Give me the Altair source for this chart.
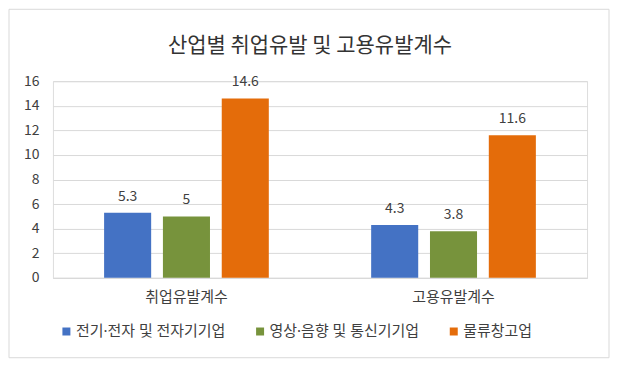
import altair as alt
import pandas as pd

groups = ["취업유발계수", "고용유발계수"]
series = ["전기·전자 및 전자기기업", "영상·음향 및 통신기기업", "물류창고업"]
values_by_group = {
    "취업유발계수": [5.3, 5, 14.6],
    "고용유발계수": [4.3, 3.8, 11.6],
}
colors = ["#4472C4", "#77933C", "#E46C0A"]
y_ticks = [0, 2, 4, 6, 8, 10, 12, 14, 16]

rows = []
for g in groups:
    for s, v in zip(series, values_by_group[g]):
        rows.append({"group": g, "series": s, "value": v, "label": f"{v:g}"})
df = pd.DataFrame(rows)

FONT = "Noto Sans CJK KR"
LEGEND_FONT = "Noto Sans, Noto Sans CJK KR"
TXT = "#404040"

x_enc = alt.X("group:N", sort=groups, title=None,
              scale=alt.Scale(paddingInner=0, paddingOuter=0),
              axis=alt.Axis(labelAngle=0, labelFontSize=15, labelColor=TXT, labelFont=FONT,
                            ticks=False, domainColor="#d9d9d9", labelPadding=12, grid=False))
xo_enc = alt.XOffset("series:N", sort=series,
                     scale=alt.Scale(paddingInner=0.2, paddingOuter=0.87))
y_enc = alt.Y("value:Q", title=None,
              scale=alt.Scale(domain=[0, 16], nice=False),
              axis=alt.Axis(values=y_ticks, labelFontSize=14, labelColor=TXT, labelFont=FONT,
                            ticks=False, domain=False, gridColor="#d9d9d9", labelPadding=14))

bars = alt.Chart(df).mark_bar().encode(
    x=x_enc,
    xOffset=xo_enc,
    y=y_enc,
    color=alt.Color("series:N", sort=series,
                    scale=alt.Scale(domain=series, range=colors),
                    legend=alt.Legend(title=None, orient="none", legendX=6, legendY=243,
                                      direction="horizontal", columns=3,
                                      symbolType="square", symbolSize=64, symbolStrokeWidth=0,
                                      labelFontSize=15, labelColor=TXT, labelFont=LEGEND_FONT,
                                      columnPadding=27, labelOffset=2)),
)

labels = alt.Chart(df).mark_text(baseline="bottom", dy=-9, fontSize=14, color=TXT, font=FONT).encode(
    x=x_enc,
    xOffset=xo_enc,
    y=y_enc,
    text="label:N",
)

frame = alt.Chart(pd.DataFrame({"a": [0]})).mark_rect(
    fill="white", fillOpacity=0, stroke="#d9d9d9", strokeWidth=1
).encode(
    x=alt.value(-44), x2=alt.value(557), y=alt.value(-72), y2=alt.value(277)
)

chart = alt.layer(frame, bars, labels).properties(
    width=535, height=197,
    padding=0,
    title=alt.Title("산업별 취업유발 및 고용유발계수", fontSize=21, font=FONT, color="#333333",
                    fontWeight="normal", offset=0, dy=47, dx=-10, anchor="middle"),
).configure_view(stroke=None).configure(background="white")

chart.save("out.html", embed_options={"renderer": "svg", "actions": False})
